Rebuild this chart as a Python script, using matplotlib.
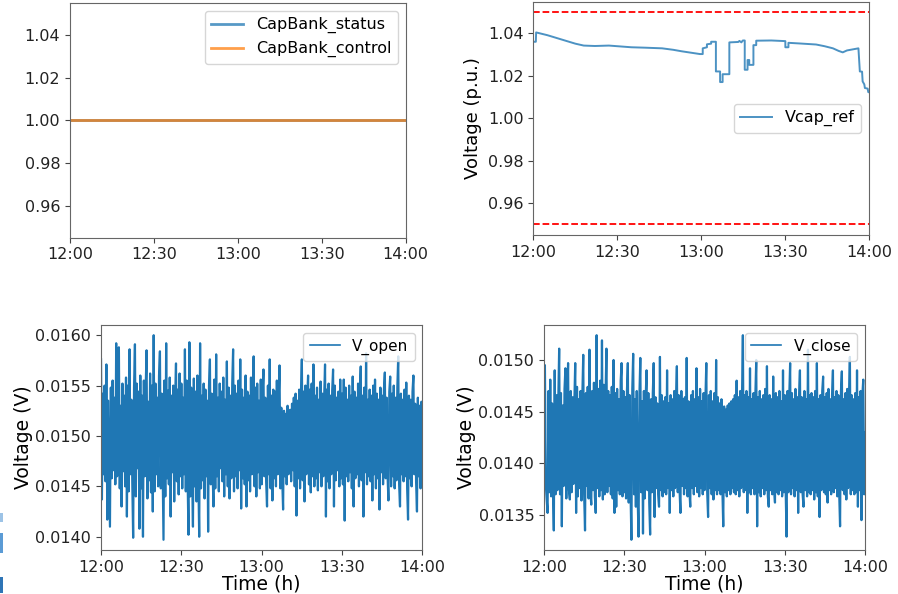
#############################################
# Capacitor bank monitoring plots
# top: capbank status/control + Vcap reference
# bottom: measured open / close voltages
#############################################

import datetime
import matplotlib
matplotlib.use("Agg")
import matplotlib.pyplot as plt
import matplotlib.dates as mdates
import matplotlib.patches as mpatches
from matplotlib.lines import Line2D

start = datetime.datetime(2023, 1, 1, 12, 0)

# capbank signals (constant over the window)
capTimes = [0, 120]
capStatus = [1.0, 1.0]
capControl = [1.0, 1.0]

# Vcap_ref, minutes after 12:00 and p.u. value (repeated minute = vertical jump)
vcapTimes = [0, 0.9, 1.0, 5, 10, 15, 18, 22, 27, 35, 40, 46, 50, 53, 56, 59.5,
             60.5, 60.5, 62, 62, 63.5, 63.5, 65.2, 65.2, 66.7, 66.7, 67.6, 67.6, 70, 70,
             73.2, 73.6, 74.3, 74.8, 75.5, 75.5, 76.5, 76.5, 77.1, 77.1, 78.6, 78.6, 79.6, 79.6,
             85, 90, 90, 91.1, 91.1, 95, 101, 104, 107, 109, 110.5, 112, 116.1, 116.6, 117.4,
             117.6, 118.2, 118.4, 119.4, 119.6, 120]
vcapRef = [1.0361, 1.0361, 1.0405, 1.0392, 1.0372, 1.0352, 1.0343, 1.0341, 1.0343, 1.0335, 1.0333, 1.0330,
           1.0323, 1.0316, 1.0310, 1.0303,
           1.0303, 1.0330, 1.0335, 1.0349, 1.0352, 1.0361, 1.0361, 1.0221, 1.0221, 1.0171, 1.0171, 1.0208,
           1.0208, 1.0358,
           1.0360, 1.0365, 1.0358, 1.0367, 1.0367, 1.0229, 1.0229, 1.0275, 1.0275, 1.0252, 1.0252, 1.0345,
           1.0345, 1.0366,
           1.0367, 1.0364, 1.0335, 1.0335, 1.0356, 1.0353, 1.0348, 1.0340, 1.0330, 1.0318, 1.0311, 1.0320,
           1.0330, 1.0221, 1.0220,
           1.0174, 1.0160, 1.0143, 1.0140, 1.0124, 1.0122]

# V_open / V_close in mV, one sample every 20 s
vOpen = [
    15.76, 14.37, 15.42, 14.62, 15.50, 14.55, 15.71, 14.17, 15.35, 14.70, 14.10, 15.48, 14.58, 15.55, 14.66,
    15.38, 14.52, 15.92, 14.60, 15.45, 15.88, 14.48, 15.30, 14.30, 15.52, 14.65, 15.40, 14.50, 15.58, 14.20,
    15.50, 14.45, 15.86, 14.62, 15.36, 14.55, 13.99, 15.48, 15.91, 14.40, 15.52, 14.68, 15.44, 14.08, 15.60,
    14.48, 15.40, 14.00, 15.55, 14.60, 15.46, 15.85, 14.38, 15.34, 14.56, 15.62, 14.44, 15.50, 14.25, 16.00,
    14.45, 15.52, 14.62, 15.38, 14.50, 15.60, 15.84, 14.48, 15.42, 14.66, 13.97, 15.55, 14.40, 15.92, 14.58,
    15.45, 14.52, 15.58, 14.20, 15.40, 14.64, 15.50, 14.35, 15.36, 15.72, 14.55, 15.46, 14.42, 15.62, 14.60,
    15.52, 14.48, 15.38, 14.62, 15.86, 14.45, 15.55, 14.58, 14.02, 15.93, 14.40, 15.48, 14.66, 14.10, 15.57,
    14.50, 15.44, 14.35, 15.60, 14.62, 14.00, 15.92, 14.48, 15.40, 14.56, 15.52, 14.38, 15.46, 14.60, 15.35,
    14.05, 15.50, 15.76, 14.52, 15.42, 14.64, 14.30, 15.56, 14.48, 15.81, 14.60, 15.38, 14.45, 15.52, 14.68,
    15.44, 14.55, 15.58, 14.40, 15.36, 14.62, 15.74, 14.50, 15.48, 14.38, 15.40, 14.58, 15.52, 15.86, 14.45,
    15.50, 14.60, 15.42, 14.48, 15.55, 14.66, 15.76, 14.28, 15.46, 14.58, 15.38, 14.52, 15.60, 14.30, 15.44,
    14.56, 15.40, 14.45, 15.58, 14.62, 15.36, 15.79, 14.50, 15.48, 14.40, 15.52, 14.64, 15.35, 14.48, 15.56,
    14.52, 15.42, 15.66, 14.60, 15.38, 14.55, 14.30, 15.50, 14.62, 15.76, 14.48, 15.40, 14.36, 15.46, 14.58,
    15.44, 14.50, 15.55, 14.62, 15.36, 15.70, 14.48, 15.28, 14.58, 14.27, 15.25, 14.60, 15.22, 14.52, 15.30,
    14.62, 15.20, 15.26, 14.55, 15.32, 14.66, 15.38, 14.50, 15.42, 14.21, 15.35, 14.58, 15.46, 14.48, 15.40,
    15.76, 14.56, 15.44, 14.35, 15.50, 14.62, 15.38, 15.60, 14.52, 15.46, 14.44, 15.52, 14.60, 15.71, 14.50,
    15.40, 14.58, 15.48, 14.46, 15.36, 14.64, 15.54, 14.50, 15.42, 14.60, 15.38, 15.71, 14.20, 15.46, 14.55,
    15.52, 14.48, 15.40, 14.62, 15.45, 15.66, 14.30, 15.50, 14.56, 15.38, 14.66, 15.44, 14.50, 15.56, 14.58,
    15.42, 14.52, 15.56, 14.16, 15.48, 14.60, 15.36, 14.55, 15.50, 14.64, 15.40, 14.48, 15.59, 14.30, 15.44,
    14.58, 15.38, 14.62, 15.52, 14.50, 15.44, 15.69, 14.56, 15.40, 14.20, 15.48, 14.64, 15.82, 14.52, 15.36,
    14.60, 15.46, 14.55, 15.40, 14.36, 15.50, 14.62, 15.56, 14.48, 15.42, 14.58, 15.36, 14.27, 15.48, 14.64,
    15.40, 14.52, 15.46, 15.63, 14.58, 15.38, 14.62, 14.36, 15.44, 15.59, 14.50, 15.42, 14.60, 15.50, 14.48,
    15.38, 14.56, 15.48, 15.79, 14.52, 14.30, 15.42, 14.62, 15.36, 14.55, 15.46, 14.60, 15.53, 14.48, 14.17,
    15.40, 14.58, 15.36, 14.50, 15.44, 15.60, 14.62, 15.32, 14.55, 14.25, 15.38, 14.60, 15.30, 14.48, 15.34,
    15.20]
vClose = [
    14.62, 14.95, 13.80, 13.65, 13.52, 14.70, 13.72, 14.81, 13.68, 14.58, 13.76, 13.35, 14.90, 13.70, 14.66,
    13.74, 14.60, 15.11, 13.70, 14.68, 13.39, 14.56, 13.78, 14.72, 14.92, 13.66, 14.62, 14.97, 13.74, 13.65,
    14.70, 13.72, 14.64, 13.80, 14.58, 14.97, 13.52, 14.74, 13.68, 14.62, 13.76, 14.70, 13.64, 14.66, 15.05,
    13.70, 13.35, 14.68, 13.78, 14.74, 13.66, 15.10, 13.72, 13.60, 14.70, 13.74, 14.78, 13.68, 13.52, 15.24,
    13.76, 14.72, 13.68, 14.80, 13.74, 15.19, 13.65, 14.76, 13.70, 14.64, 15.11, 13.72, 14.70, 13.78, 14.66,
    13.70, 14.74, 13.66, 15.00, 13.52, 14.68, 13.58, 14.72, 13.74, 14.62, 13.70, 14.80, 14.97, 13.68, 14.70,
    13.72, 14.64, 13.66, 14.70, 14.97, 13.62, 14.66, 13.74, 13.26, 14.72, 15.06, 13.70, 14.62, 13.58, 14.70,
    13.68, 13.29, 14.66, 15.02, 13.72, 14.60, 13.32, 14.70, 13.66, 14.64, 14.90, 13.74, 14.68, 13.62, 13.31,
    14.62, 13.72, 14.68, 14.97, 13.48, 14.64, 13.76, 14.58, 13.70, 13.58, 15.03, 13.74, 14.66, 13.68, 14.60,
    13.72, 14.64, 13.70, 14.90, 13.76, 14.58, 13.52, 14.66, 13.74, 14.62, 13.68, 14.70, 13.76, 14.60, 14.94,
    13.72, 14.66, 13.74, 13.52, 14.70, 13.78, 14.62, 13.70, 14.64, 13.76, 15.02, 13.68, 14.60, 13.74, 13.58,
    14.66, 13.76, 14.70, 13.70, 14.62, 13.78, 14.92, 13.72, 14.64, 13.68, 14.72, 13.76, 14.60, 13.70, 14.68,
    13.74, 14.62, 14.97, 13.72, 13.48, 14.66, 13.76, 14.70, 13.70, 14.60, 13.65, 14.68, 13.74, 15.00, 13.70,
    14.64, 13.74, 14.58, 13.70, 14.62, 13.76, 13.39, 14.55, 13.72, 14.52, 13.68, 14.56, 13.74, 14.58, 13.70,
    14.60, 13.76, 14.62, 13.72, 14.66, 13.70, 14.80, 13.74, 14.64, 13.68, 14.70, 13.76, 14.62, 15.24, 13.72,
    14.66, 13.74, 14.70, 13.52, 14.64, 13.72, 14.92, 13.70, 14.62, 13.76, 14.68, 13.70, 14.66, 15.00, 13.39,
    14.64, 13.72, 14.70, 13.68, 14.62, 13.76, 14.66, 13.70, 14.72, 13.74, 14.94, 13.68, 13.58, 14.66, 13.74,
    14.62, 13.70, 14.84, 13.76, 13.62, 14.68, 13.72, 14.64, 13.70, 14.70, 13.74, 14.60, 13.68, 14.90, 13.72,
    14.66, 13.74, 13.29, 14.70, 13.72, 14.64, 14.97, 13.70, 14.68, 13.76, 14.62, 13.68, 14.72, 13.74, 14.64,
    13.52, 14.66, 14.90, 13.72, 14.64, 13.70, 13.58, 14.70, 13.74, 14.62, 13.68, 15.10, 13.72, 14.66, 13.70,
    14.68, 13.74, 14.64, 13.65, 14.70, 13.72, 14.97, 13.68, 14.62, 13.48, 14.66, 13.74, 14.70, 14.84, 13.72,
    14.64, 13.70, 14.68, 13.62, 14.72, 13.74, 14.62, 13.70, 14.66, 14.90, 13.72, 14.64, 13.76, 14.70, 13.68,
    14.66, 13.72, 13.39, 14.70, 14.89, 13.74, 14.62, 13.70, 14.68, 13.65, 14.72, 13.76, 14.64, 15.03, 13.70,
    14.66, 13.74, 14.62, 13.70, 14.68, 13.72, 14.90, 13.58, 14.64, 13.74, 14.70, 13.45, 14.66, 14.81, 13.70,
    14.30]


def toTimes(mins):
    return [start + datetime.timedelta(minutes=m) for m in mins]


capT = toTimes(capTimes)
vcapT = toTimes(vcapTimes)
noiseT = toTimes([i / 3.0 for i in range(len(vOpen))])

plt.rcParams['font.family'] = 'DejaVu Sans'
plt.rcParams['axes.edgecolor'] = '#666666'
plt.rcParams['xtick.color'] = '#444444'
plt.rcParams['ytick.color'] = '#444444'
plt.rcParams['xtick.labelcolor'] = '#222222'
plt.rcParams['ytick.labelcolor'] = '#222222'

fig = plt.figure(figsize=(8.98, 5.94), dpi=100)
ax1 = fig.add_axes([0.0780, 0.5998, 0.3738, 0.3956])
ax2 = fig.add_axes([0.5939, 0.6044, 0.3742, 0.3928])
ax3 = fig.add_axes([0.1125, 0.0741, 0.3578, 0.3788])
ax4 = fig.add_axes([0.6058, 0.0741, 0.3575, 0.3788])

tickSize = 11.5
labelSize = 13.5

# top left - capbank
ax1.plot(capT, capStatus, color='tab:blue', lw=2, alpha=0.75, label='CapBank_status')
ax1.plot(capT, capControl, color='tab:orange', lw=2, alpha=0.75, label='CapBank_control')
ax1.set_ylim(0.945, 1.055)
ax1.set_yticks([0.96, 0.98, 1.00, 1.02, 1.04])
ax1.legend(loc='upper right', fontsize=11.5)

# top right - Vcap reference with limits
ax2.plot(vcapT, vcapRef, color='tab:blue', lw=1.4, alpha=0.8, label='Vcap_ref')
ax2.axhline(1.05, color='red', ls='--', lw=1.3)
ax2.axhline(0.95, color='red', ls='--', lw=1.3)
ax2.set_ylim(0.945, 1.055)
ax2.set_yticks([0.96, 0.98, 1.00, 1.02, 1.04])
ax2.set_ylabel('Voltage (p.u.)', fontsize=13)
ax2.legend(loc='center right', fontsize=11.5)

# bottom - noisy measured voltages
ax3.plot(noiseT, [v / 1000 for v in vOpen], color='#1f77b4', lw=1.6)
ax3.set_ylabel('Voltage (V)', fontsize=labelSize, labelpad=2)
ax3.set_xlabel('Time (h)', fontsize=labelSize, labelpad=0)
ax3.set_yticks([0.0140, 0.0145, 0.0150, 0.0155, 0.0160])
ax3.set_yticklabels(['0.0140', '0.0145', '0.0150', '0.0155', '0.0160'])
ax3.legend(handles=[Line2D([], [], color='#1f77b4', lw=1.2, label='V_open')],
           loc='upper right', fontsize=11)

ax4.plot(noiseT, [v / 1000 for v in vClose], color='#1f77b4', lw=1.6)
ax4.set_ylabel('Voltage (V)', fontsize=labelSize, labelpad=2)
ax4.set_xlabel('Time (h)', fontsize=labelSize, labelpad=0)
ax4.set_yticks([0.0135, 0.0140, 0.0145, 0.0150])
ax4.set_yticklabels(['0.0135', '0.0140', '0.0145', '0.0150'])
ax4.legend(handles=[Line2D([], [], color='#1f77b4', lw=1.2, label='V_close')],
           loc='upper right', fontsize=11)

for ax in [ax1, ax2, ax3, ax4]:
    ax.set_xlim(start, start + datetime.timedelta(minutes=120))
    ax.xaxis.set_major_locator(mdates.MinuteLocator(byminute=[0, 30]))
    ax.xaxis.set_major_formatter(mdates.DateFormatter('%H:%M'))
    ax.tick_params(labelsize=tickSize)

# cropped bits of blue at the left edge of the original screenshot
for y0, h, c in [(513, 9, '#9dc3e6'), (533, 20, '#5b9bd5'), (577, 16, '#2e75b6')]:
    fig.patches.append(mpatches.Rectangle((0, 1 - (y0 + h) / 594), 3 / 898, h / 594,
                                          transform=fig.transFigure, color=c, lw=0))

fig.savefig('out.png', dpi=100)
